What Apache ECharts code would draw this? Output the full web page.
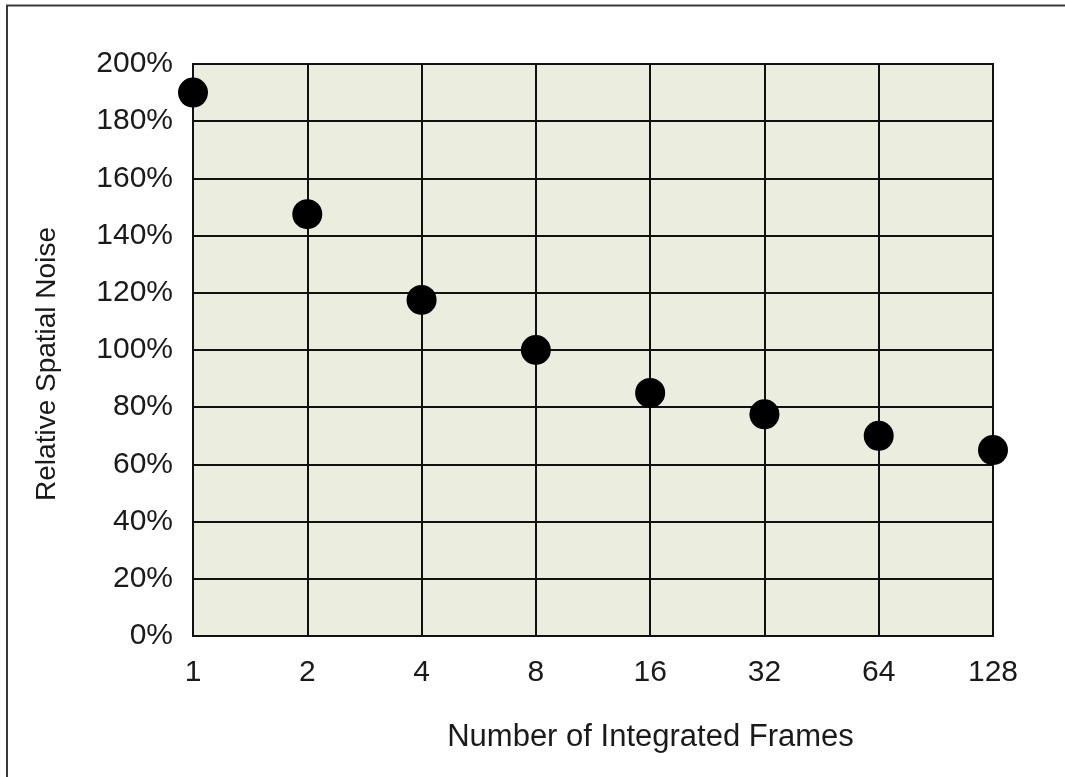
<!DOCTYPE html>
<html>
<head>
<meta charset="utf-8">
<script src="https://cdn.jsdelivr.net/npm/echarts@6/dist/echarts.min.js"></script>
<style>
html,body{margin:0;padding:0;background:#fff;}
#chart{width:1065px;height:777px;}
</style>
</head>
<body>
<div id="chart"></div>
<script>
const frames = ['1', '2', '4', '8', '16', '32', '64', '128'];
const noise = [190, 147.5, 117.5, 100, 85, 77.5, 70, 65];
const yTicks = { min: 0, max: 200, interval: 20 };

const chart = echarts.init(document.getElementById('chart'));
const font = 'Liberation Sans, Arial, sans-serif';
chart.setOption({
  animation: false,
  backgroundColor: '#ffffff',
  graphic: [{
    type: 'polyline',
    shape: { points: [[7, 777], [7, 5.5], [1065, 5.5]] },
    style: { stroke: '#3a3a3a', lineWidth: 2, fill: null },
    silent: true
  }],
  grid: {
    left: 193, right: 72, top: 64, bottom: 141,
    show: true,
    backgroundColor: '#EBEEDE',
    borderColor: '#111111',
    borderWidth: 2
  },
  xAxis: {
    type: 'category',
    data: frames,
    boundaryGap: false,
    name: 'Number of Integrated Frames',
    nameLocation: 'middle',
    nameGap: 86,
    nameTextStyle: { fontFamily: font, fontSize: 31, color: '#1a1a1a', lineHeight: 30, padding: [0, 0, 0, 115] },
    axisLine: { show: true, lineStyle: { color: '#111111', width: 2 } },
    axisTick: { show: false },
    axisLabel: { fontFamily: font, fontSize: 30, color: '#1a1a1a', margin: 22, lineHeight: 30 },
    splitLine: { show: true, lineStyle: { color: '#111111', width: 2 } }
  },
  yAxis: {
    type: 'value',
    min: yTicks.min, max: yTicks.max, interval: yTicks.interval,
    name: 'Relative Spatial Noise',
    nameLocation: 'middle',
    nameGap: 131,
    nameRotate: 90,
    nameTextStyle: { fontFamily: font, fontSize: 28, color: '#1a1a1a', lineHeight: 30, padding: [0, 28, 0, 0] },
    axisLine: { show: true, lineStyle: { color: '#111111', width: 2 } },
    axisTick: { show: false },
    axisLabel: { fontFamily: font, fontSize: 30, color: '#1a1a1a', margin: 20, formatter: '{value}%' },
    splitLine: { show: true, lineStyle: { color: '#111111', width: 2 } }
  },
  series: [{
    type: 'scatter',
    data: noise,
    symbol: 'circle',
    symbolSize: 30,
    clip: false,
    itemStyle: { color: '#000000', opacity: 1 }
  }]
});
</script>
</body>
</html>
